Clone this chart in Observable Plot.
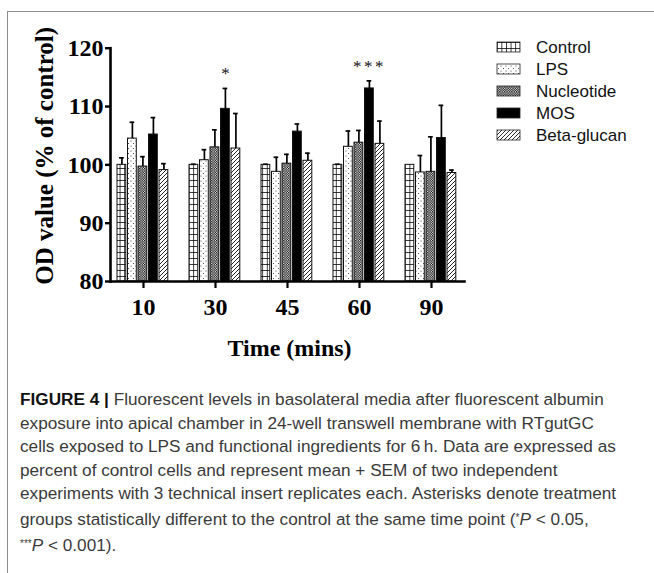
<!DOCTYPE html>
<html><head><meta charset="utf-8">
<script src="https://cdn.jsdelivr.net/npm/d3@7"></script>
<script src="https://cdn.jsdelivr.net/npm/@observablehq/plot@0.6"></script>
<style>
body{margin:0;background:#fff;}
#wrap{position:relative;width:654px;height:573px;overflow:hidden;background:#fff;}
#frame{position:absolute;left:7px;top:11px;width:660px;height:580px;border-top:1.5px solid #8c8c8c;border-left:1.5px solid #8c8c8c;}
#chart{position:absolute;left:0;top:0;}
#caption{position:absolute;left:20px;top:388px;font-family:"Liberation Sans",Arial,sans-serif;font-size:17.2px;line-height:23.6px;color:#3a3a3a;white-space:nowrap;}
#caption b{color:#111;}
#caption sup{font-size:10px;vertical-align:4px;}
</style></head><body>
<div id="wrap">
<div id="frame"></div>
<div id="chart"></div>
<div id="caption">
<b>FIGURE 4 |</b> Fluorescent levels in basolateral media after fluorescent albumin<br>
exposure into apical chamber in 24-well transwell membrane with RTgutGC<br>
cells exposed to LPS and functional ingredients for 6&#8201;h. Data are expressed as<br>
percent of control cells and represent mean + SEM of two independent<br>
experiments with 3 technical insert replicates each. Asterisks denote treatment<br>
groups statistically different to the control at the same time point (<sup>*</sup><i>P</i> &lt; 0.05,<br>
<sup>***</sup><i>P</i> &lt; 0.001).
</div>
</div>
<script>
// ---- data ----
const times = ["10", "30", "45", "60", "90"];
const treatments = ["Control", "LPS", "Nucleotide", "MOS", "Beta-glucan"];
const controlMean    = [100, 100, 100, 100, 100];
const controlSem     = [1.2, 0.1, 0.1, 0.1, 0];
const lpsMean        = [104.5, 100.8, 98.8, 103.1, 98.7];
const lpsSem         = [2.8, 1.8, 2.5, 2.7, 2.9];
const nucleotideMean = [99.7, 103.0, 100.2, 103.8, 98.8];
const nucleotideSem  = [1.7, 3.0, 1.6, 2.1, 6.0];
const mosMean        = [105.2, 109.6, 105.7, 113.1, 104.6];
const mosSem         = [2.9, 3.5, 1.3, 1.3, 5.6];
const betaMean       = [99.1, 102.8, 100.7, 103.6, 98.6];
const betaSem        = [1.1, 6.0, 1.3, 3.9, 0.5];
const significance   = ["", "*", "", "***", ""]; // on MOS bars
const yTicks = [80, 90, 100, 110, 120];

const meansBy = {"Control": controlMean, "LPS": lpsMean, "Nucleotide": nucleotideMean, "MOS": mosMean, "Beta-glucan": betaMean};
const semsBy  = {"Control": controlSem, "LPS": lpsSem, "Nucleotide": nucleotideSem, "MOS": mosSem, "Beta-glucan": betaSem};
const fills = {"Control": "url(#pat-control)", "LPS": "url(#pat-lps)", "Nucleotide": "url(#pat-nuc)", "MOS": "#000", "Beta-glucan": "url(#pat-beta)"};

const rows = [];
times.forEach((t, j) => treatments.forEach((s, i) => rows.push({time: t, treatment: s, idx: i, mean: meansBy[s][j], sem: semsBy[s][j], sig: s === "MOS" ? significance[j] : ""})));

// ---- layout ----
const W = 654, H = 390, mL = 110, mR = 190, mT = 47.7, mB = H - 281;
const pIn = 0.271, pOut = 0.0925;
const bw = d3.scaleBand().domain(times).range([mL, W - mR]).paddingInner(pIn).paddingOuter(pOut).bandwidth();
const pitch = bw / treatments.length, gap = 1.2, capHalf = 2.6;
const serif = "'Liberation Serif', 'Times New Roman', serif";

function defsMark() {
  const defs = d3.create("svg:defs");
  const pc = defs.append("pattern").attr("id", "pat-control").attr("patternUnits", "userSpaceOnUse").attr("width", 4.6).attr("height", 6);
  pc.append("rect").attr("width", 4.6).attr("height", 6).attr("fill", "#fff");
  pc.append("path").attr("d", "M0.4,0V6M0,0.4H4.6").attr("stroke", "#111").attr("stroke-width", 0.9);
  const pl = defs.append("pattern").attr("id", "pat-lps").attr("patternUnits", "userSpaceOnUse").attr("width", 5).attr("height", 5);
  pl.append("rect").attr("width", 5).attr("height", 5).attr("fill", "#fff");
  pl.append("circle").attr("cx", 1).attr("cy", 1).attr("r", 0.55).attr("fill", "#333");
  pl.append("circle").attr("cx", 3.5).attr("cy", 3.5).attr("r", 0.55).attr("fill", "#333");
  const pn = defs.append("pattern").attr("id", "pat-nuc").attr("patternUnits", "userSpaceOnUse").attr("width", 2.4).attr("height", 2.4);
  pn.append("rect").attr("width", 2.4).attr("height", 2.4).attr("fill", "#fff");
  pn.append("rect").attr("width", 1.3).attr("height", 1.3).attr("fill", "#000");
  pn.append("rect").attr("x", 1.2).attr("y", 1.2).attr("width", 1.3).attr("height", 1.3).attr("fill", "#000");
  const pb = defs.append("pattern").attr("id", "pat-beta").attr("patternUnits", "userSpaceOnUse").attr("width", 4).attr("height", 4);
  pb.append("rect").attr("width", 4).attr("height", 4).attr("fill", "#fff");
  pb.append("path").attr("d", "M-1,5L5,-1M-1,1L1,-1M3,5L5,3").attr("stroke", "#111").attr("stroke-width", 0.9);
  return defs.node();
}

function legendMark() {
  const g = d3.create("svg:g").attr("text-anchor", "start");
  treatments.forEach((s, i) => {
    const y = 47 + i * 22;
    g.append("rect").attr("x", 497).attr("y", y - 5).attr("width", 23).attr("height", 10)
      .attr("fill", fills[s]).attr("stroke", "#222").attr("stroke-width", 0.8);
    g.append("text").attr("x", 536).attr("y", y).attr("dy", "0.35em").attr("text-anchor", "start")
      .attr("font-family", "'Liberation Sans', Arial, sans-serif").attr("font-size", 17).attr("fill", "#111").text(s);
  });
  return g.node();
}

const marks = [defsMark];
treatments.forEach((s, i) => {
  const data = rows.filter(d => d.treatment === s);
  const center = i * pitch + (pitch - gap) / 2; // from band left
  marks.push(Plot.barY(data, {
    x: "time", y1: () => 80, y2: "mean", fill: fills[s], stroke: "#111", strokeWidth: 1,
    insetLeft: i * pitch, insetRight: bw - (i + 1) * pitch + gap
  }));
  const withErr = data.filter(d => d.sem > 0);
  marks.push(Plot.ruleX(withErr, {x: "time", y1: "mean", y2: d => d.mean + d.sem, dx: center - bw / 2, stroke: "#000", strokeWidth: 1.7}));
  marks.push(Plot.tickY(withErr, {x: "time", y: d => d.mean + d.sem, insetLeft: center - capHalf, insetRight: bw - center - capHalf, stroke: "#000", strokeWidth: 1.7}));
});
const mosCenter = 3 * pitch + (pitch - gap) / 2;
marks.push(Plot.text(rows.filter(d => d.sig), {x: "time", y: d => d.mean + d.sem, text: "sig", dx: mosCenter - bw / 2, dy: -9, lineAnchor: "bottom", fontSize: 17, fontFamily: serif, fill: "#111"}));
marks.push(Plot.frame({anchor: "left", stroke: "#000", strokeWidth: 2.6}));
marks.push(Plot.frame({anchor: "bottom", stroke: "#000", strokeWidth: 2.6}));
marks.push(Plot.axisY({ticks: yTicks, tickSize: 5, tickPadding: 2, tickFormat: d => String(d), fontSize: 24, fontWeight: "bold", fontFamily: serif, stroke: "#000", strokeWidth: 2.4, label: null, fill: "#000"}));
marks.push(Plot.axisX({tickSize: 7, tickPadding: 9, fontSize: 24, fontWeight: "bold", fontFamily: serif, stroke: "#000", strokeWidth: 2.2, label: null, fill: "#000"}));
marks.push(Plot.text(["Time (mins)"], {frameAnchor: "bottom", text: d => d, dx: 2, dy: 67, lineAnchor: "middle", fontSize: 24, fontWeight: "bold", fontFamily: serif, fill: "#000"}));
marks.push(Plot.text(["OD value (% of control)"], {frameAnchor: "left", text: d => d, rotate: -90, dx: -66, dy: -9, textAnchor: "middle", lineAnchor: "middle", fontSize: 25, fontWeight: "bold", fontFamily: serif, fill: "#000"}));
marks.push(legendMark);

const chart = Plot.plot({
  width: W, height: H, marginLeft: mL, marginRight: mR, marginTop: mT, marginBottom: mB,
  style: {background: "transparent", overflow: "visible"},
  x: {type: "band", domain: times, paddingInner: pIn, paddingOuter: pOut, axis: null},
  y: {domain: [80, 120], axis: null},
  color: {type: "identity"},
  marks
});
d3.select(chart).selectAll("text").filter(function() { return this.textContent === "***"; }).attr("letter-spacing", 2.5);
document.getElementById("chart").appendChild(chart);
</script>
</body></html>
